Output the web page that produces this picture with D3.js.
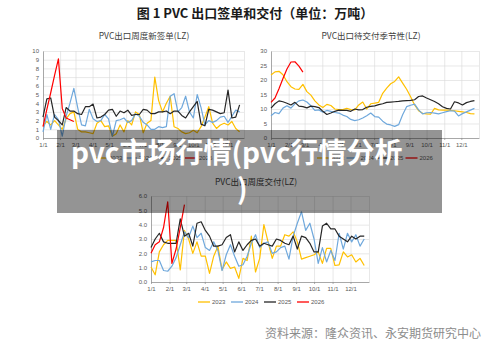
<!DOCTYPE html>
<html>
<head>
<meta charset="utf-8">
<script src="https://cdn.jsdelivr.net/npm/d3@7"></script>
<style>
body { margin: 0; background: #fff; }
svg { display: block; font-family: "Liberation Sans", Arial, sans-serif; }
.grid line { stroke: #d9d9d9; stroke-width: 0.6; }
.grid path { display: none; }
.axis text { fill: #595959; font-size: 6px; }
.axis path, .axis line { stroke: #8c8c8c; stroke-width: 0.7; }
.series { fill: none; stroke-width: 1.2; stroke-linejoin: round; }
.cn { font-family: "Noto Sans CJK SC", sans-serif; }
</style>
</head>
<body>
<script>
var monthDays = [0, 31, 59, 90, 120, 151, 181, 212, 243, 273, 304, 334];
var monthLabels = ["1/1", "2/1", "3/1", "4/1", "5/1", "6/1", "7/1", "8/1", "9/1", "10/1", "11/1", "12/1"];
var years = ["2023", "2024", "2025", "2026"];
var color = {"2023": "#ffc000", "2024": "#6fa8dc", "2025": "#262626", "2026": "#ff0000"};

// PVC出口周度新签单
var sign2023 = [1.4, 1.9, 1.5, 2.0, 1.5, 1.0, 2.2, 2.8, 3.0, 1.0, 0.7, 0.7, 0.6, 0.5, 1.7, 2.0, 1.3, 1.4, 0.2, 0.5, 1.5, 0.7, 2.0, 1.5, 3.0, 2.7, 0.6, 1.7, 2.0, 7.0, 4.3, 3.0, 4.0, 4.8, 1.3, 1.1, 0.7, 0.5, 0.6, 0.9, 0.6, 1.3, 2.4, 3.6, 1.7, 1.1, 1.5, 1.7, 1.5, 1.9, 1.1, 0.7];
var sign2024 = [0.7, 2.7, 1.0, 2.7, 2.1, 0.2, 2.5, 4.0, 5.7, 3.5, 1.5, 1.4, 3.3, 2.2, 1.9, 2.0, 2.7, 2.2, 0.2, 2.0, 2.1, 2.3, 1.8, 2.0, 2.8, 2.5, 1.8, 1.5, 1.0, 1.0, 1.3, 1.2, 1.3, 4.8, 5.1, 3.0, 3.5, 4.8, 3.0, 2.3, 5.0, 3.5, 1.5, 2.0, 1.8, 2.0, 2.4, 2.5, 1.8, 2.5, 3.2, 3.0];
var sign2025 = [2.4, 4.5, 4.6, 2.4, 2.0, 1.5, 3.5, 3.1, 3.1, 2.8, 2.7, 3.6, 3.6, 3.9, 2.3, 2.4, 2.7, 3.2, 3.3, 2.5, 3.1, 2.9, 3.2, 2.6, 2.7, 2.7, 3.3, 3.2, 2.8, 2.8, 3.0, 3.0, 3.1, 2.8, 3.1, 3.1, 2.6, 2.3, 3.0, 3.6, 4.2, 1.6, 1.4, 3.3, 3.2, 3.0, 2.8, 2.9, 5.5, 2.3, 2.4, 3.8];
var sign2026 = [1.3, 3.3, 5.2, 7.2, 9.1, 3.4, 2.3, 2.1, 1.9];

// PVC出口待交付季节性
var pend2023 = [21.7, 22.8, 23.0, 21.8, 19.4, 17.7, 16.9, 16.8, 18.5, 16.0, 14.8, 12.8, 11.4, 10.5, 11.6, 11.2, 10.0, 9.8, 9.8, 10.2, 9.8, 9.7, 11.4, 12.4, 10.0, 11.8, 12.0, 12.3, 15.4, 17.2, 18.7, 19.5, 21.1, 18.9, 16.8, 14.2, 11.4, 9.4, 8.5, 8.3, 8.2, 10.2, 9.7, 9.6, 9.6, 9.5, 9.4, 9.2, 9.0, 8.8, 8.4, 8.3];
var pend2024 = [7.7, 8.8, 8.4, 10.3, 11.1, 10.3, 11.8, 12.8, 13.1, 12.4, 11.1, 9.5, 9.7, 8.9, 9.5, 9.2, 8.8, 8.6, 7.9, 7.4, 6.4, 6.0, 6.3, 6.9, 7.7, 8.6, 7.4, 7.2, 5.8, 4.8, 4.5, 4.0, 4.6, 8.0, 10.8, 11.3, 11.7, 9.7, 8.3, 8.7, 8.8, 8.6, 8.3, 8.7, 9.1, 9.4, 9.3, 7.6, 8.4, 9.0, 9.6, 10.2];
var pend2025 = [10.3, 11.8, 12.8, 12.5, 12.0, 11.4, 12.3, 11.0, 10.8, 10.4, 11.0, 10.8, 10.5, 9.2, 8.1, 8.6, 9.2, 9.6, 9.5, 9.5, 9.2, 10.0, 9.7, 9.8, 10.6, 10.9, 11.1, 11.5, 11.8, 12.3, 12.4, 12.5, 12.6, 12.8, 12.9, 13.0, 13.2, 14.3, 14.5, 13.8, 13.2, 12.6, 11.8, 10.8, 10.2, 10.0, 12.5, 12.1, 11.4, 12.2, 12.6, 12.9];
var pend2026 = [12.3, 13.8, 17.0, 20.5, 23.8, 26.2, 26.3, 24.8, 22.7];

// PVC出口周度交付
var deliv2023 = [1.05, 0.5, 2.1, 2.6, 2.9, 2.9, 2.9, 0.85, 3.6, 3.0, 2.0, 2.8, 1.8, 1.8, 0.6, 1.8, 2.5, 0.85, 1.4, 0.95, 1.05, 0.25, 1.65, 1.5, 3.2, 0.7, 1.65, 4.0, 2.8, 1.65, 2.5, 2.5, 3.3, 3.2, 3.5, 2.8, 1.6, 1.7, 1.8, 1.9, 2.1, 1.3, 2.35, 2.35, 1.15, 1.2, 2.1, 1.75, 1.9, 1.4, 1.65, 1.15];
var deliv2024 = [1.4, 1.5, 1.5, 0.8, 0.75, 1.1, 1.7, 2.6, 3.5, 3.1, 3.9, 3.1, 3.4, 2.4, 2.2, 2.8, 2.2, 0.8, 1.9, 2.6, 1.8, 1.1, 1.2, 1.8, 2.7, 3.3, 2.4, 2.7, 2.8, 2.0, 2.1, 2.4, 2.5, 1.6, 3.2, 4.1, 4.9, 3.6, 4.1, 3.0, 1.3, 2.4, 1.4, 2.2, 1.5, 3.4, 2.3, 3.4, 2.8, 3.3, 2.5, 3.0];
var deliv2025 = [2.4, 3.0, 3.4, 2.8, 2.7, 2.7, 2.7, 4.4, 3.2, 3.4, 2.5, 4.1, 4.2, 3.6, 3.2, 2.5, 2.5, 2.6, 3.1, 3.3, 2.1, 2.8, 2.2, 2.6, 2.9, 3.0, 2.5, 2.7, 2.6, 2.5, 3.0, 2.9, 2.7, 2.6, 3.2, 2.3, 3.2, 3.1, 2.7, 2.1, 2.1, 3.9, 4.1, 3.7, 3.7, 3.2, 3.0, 2.8, 3.2, 3.0, 3.2, 3.2];
var deliv2026 = [2.0, 2.6, 2.8, 3.8, 5.6, 1.3, 2.3, 3.8, 5.4];


var svg = d3.select("body").append("svg")
  .attr("width", 500)
  .attr("height", 344);

svg.append("rect").attr("width", 500).attr("height", 344).attr("fill", "#fff");

svg.append("text")
  .attr("class", "cn")
  .attr("x", 255).attr("y", 18)
  .attr("text-anchor", "middle")
  .style("font-size", "13px")
  .style("font-weight", "bold")
  .style("fill", "#1a1a1a")
  .text("图 1 PVC 出口签单和交付（单位：万吨）");

function plot_chart(cfg, series) {
  var x = d3.scaleLinear().domain([0, 365]).range([cfg.x0, cfg.x1]);
  var y = d3.scaleLinear().domain([0, cfg.yMax]).range([cfg.yBot, cfg.yTop]);
  var yTicks = d3.range(0, cfg.yMax + 0.001, cfg.yStep);
  var g = svg.append("g");

  // grid
  g.append("g").attr("class", "grid")
    .attr("transform", "translate(0," + cfg.yBot + ")")
    .call(d3.axisBottom(x).tickValues(monthDays.concat([365])).tickSize(-(cfg.yBot - cfg.yTop)).tickFormat(""));
  g.append("g").attr("class", "grid")
    .attr("transform", "translate(" + cfg.x0 + ",0)")
    .call(d3.axisLeft(y).tickValues(yTicks).tickSize(-(cfg.x1 - cfg.x0)).tickFormat(""));

  // axes
  g.append("g").attr("class", "axis")
    .attr("transform", "translate(" + cfg.x0 + ",0)")
    .call(d3.axisLeft(y).tickValues(yTicks).tickSize(0).tickPadding(4));
  g.append("g").attr("class", "axis")
    .attr("transform", "translate(0," + cfg.yBot + ")")
    .call(d3.axisBottom(x).tickValues(monthDays).tickSizeInner(2).tickSizeOuter(0).tickPadding(3)
      .tickFormat(function(d, i) { return monthLabels[i]; }));

  var line = d3.line()
    .x(function(d, i) { return x(i * 7); })
    .y(function(d) { return y(d); });

  years.forEach(function(yr, k) {
    g.append("path")
      .datum(series[k])
      .attr("class", "series")
      .attr("d", line)
      .style("stroke", color[yr]);
  });

  g.append("text")
    .attr("class", "cn")
    .attr("x", cfg.titleX).attr("y", cfg.titleY)
    .attr("text-anchor", "middle")
    .style("font-size", "8.5px")
    .style("fill", "#404040")
    .text(cfg.title);

  // legend
  var lg = g.selectAll("g.legend").data(years).enter().append("g")
    .attr("transform", function(d, i) { return "translate(" + (cfg.legendX + i * cfg.legendGap) + "," + cfg.legendY + ")"; });
  lg.append("line").attr("x1", 0).attr("x2", 12)
    .style("stroke", function(d) { return color[d]; })
    .style("stroke-width", 1.3);
  lg.append("text").attr("x", 14).attr("y", 2)
    .style("font-size", "6px").style("fill", "#595959")
    .text(function(d) { return d; });
}

plot_chart({x0: 43, x1: 244, yTop: 51, yBot: 138, yMax: 10, yStep: 1,
  title: "PVC出口周度新签单(LZ)", titleX: 144, titleY: 39,
  legendX: 95, legendY: 158, legendGap: 30},
  [sign2023, sign2024, sign2025, sign2026]);

plot_chart({x0: 271, x1: 479, yTop: 51, yBot: 138, yMax: 30, yStep: 5,
  title: "PVC出口待交付季节性(LZ)", titleX: 371, titleY: 39,
  legendX: 317, legendY: 158, legendGap: 29.5},
  [pend2023, pend2024, pend2025, pend2026]);

plot_chart({x0: 151, x1: 369, yTop: 196, yBot: 282, yMax: 6, yStep: 1,
  title: "PVC出口周度交付(LZ)", titleX: 256, titleY: 185,
  legendX: 198, legendY: 302, legendGap: 33},
  [deliv2023, deliv2024, deliv2025, deliv2026]);

svg.append("text")
  .attr("class", "cn")
  .attr("x", 265).attr("y", 338)
  .style("font-size", "12px")
  .style("fill", "#8c8c8c")
  .text("资料来源：隆众资讯、永安期货研究中心");

// watermark banner
svg.append("rect")
  .attr("x", 57).attr("y", 130)
  .attr("width", 385).attr("height", 83)
  .attr("fill", "rgba(0,0,0,0.42)");

var banner = svg.append("text")
  .attr("class", "cn")
  .style("font-size", "28px")
  .style("font-weight", "bold")
  .style("fill", "#fff");
banner.append("tspan").attr("x", 71).attr("y", 163).text("pvc市场行情(pvc行情分析");
banner.append("tspan").attr("x", 237).attr("y", 199).text(")");
</script>
</body>
</html>
